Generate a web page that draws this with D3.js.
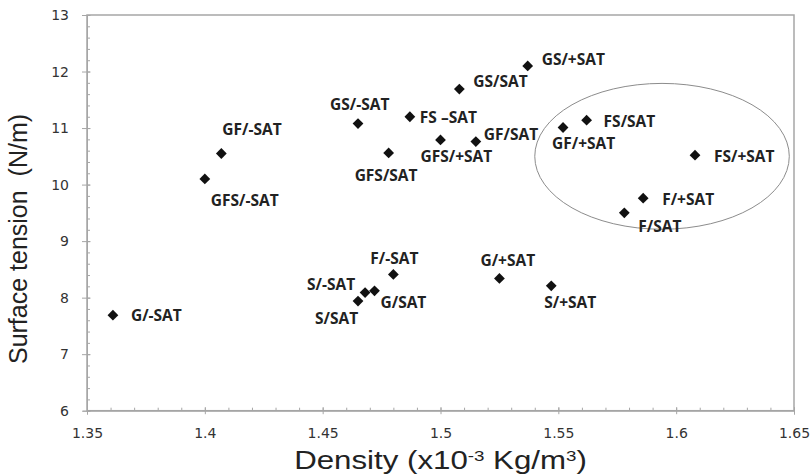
<!DOCTYPE html>
<html lang="en">
<head>
<meta charset="utf-8">
<title>Surface tension vs density</title>
<script src="https://d3js.org/d3.v7.min.js"></script>
<style>
  body { margin: 0; background: #fff; }
  .tick text { font-family: "DejaVu Sans", Verdana, sans-serif; font-size: 14px; fill: #333; }
  .lbl { font-family: "Open Sans", sans-serif; font-weight: 700; font-size: 15.5px; fill: #222; }
  .title { font-family: "Liberation Sans", Arial, sans-serif; font-size: 25px; fill: #222; }
</style>
</head>
<body>
<div id="chart"></div>
<script>
// sample names, density (x10^-3 kg/m3), surface tension (N/m)
var names   = ["G/-SAT","GFS/-SAT","GF/-SAT","GS/+SAT","GS/SAT","GS/-SAT","FS \u2013SAT","GFS/+SAT","GF/SAT","GFS/SAT",
               "GF/+SAT","FS/SAT","FS/+SAT","F/+SAT","F/SAT","F/-SAT","S/-SAT","G/SAT","S/SAT","G/+SAT","S/+SAT"];
var density = [1.361, 1.400, 1.407, 1.537, 1.508, 1.465, 1.487, 1.500, 1.515, 1.478,
               1.552, 1.562, 1.608, 1.586, 1.578, 1.480, 1.468, 1.472, 1.465, 1.525, 1.547];
var tension = [7.69, 10.10, 10.55, 12.10, 11.69, 11.08, 11.20, 10.79, 10.76, 10.56,
               11.01, 11.14, 10.52, 9.76, 9.50, 8.41, 8.09, 8.12, 7.94, 8.34, 8.21];

var xTicks = [1.35, 1.4, 1.45, 1.5, 1.55, 1.6, 1.65];
var xTickLabels = ["1.35", "1.4", "1.45", "1.5", "1.55", "1.6", "1.65"];
var yTicks = [6, 7, 8, 9, 10, 11, 12, 13];
var yTickLabels = ["6", "7", "8", "9", "10", "11", "12", "13"];

// highlighted group (ellipse), in data units: centre density, centre tension, half widths
var groupEllipse = [1.594, 10.50, 0.054, 1.29];

// label offsets in px from the marker (text start, baseline)
var labelOffset = {
  "G/-SAT": [18, 6], "GFS/-SAT": [6, 27], "GF/-SAT": [1, -18], "GS/+SAT": [14, -1],
  "GS/SAT": [14, -2], "GS/-SAT": [-28, -14], "FS \u2013SAT": [10, 6], "GFS/+SAT": [-20, 22],
  "GF/SAT": [8, -2], "GFS/SAT": [-34, 28], "GF/+SAT": [-11, 22], "FS/SAT": [17, 7],
  "FS/+SAT": [19, 7], "F/+SAT": [19, 7], "F/SAT": [14, 19], "F/-SAT": [-23, -10],
  "S/-SAT": [-58, -3], "G/SAT": [6, 17], "S/SAT": [-43, 23], "G/+SAT": [-19, -12], "S/+SAT": [-7, 22]
};

var width = 812, height = 475;
var plotL = 87, plotR = 794, plotT = 15, plotB = 410.7;
var axisColor = "#a6a6a6";

var svg = d3.select("#chart").append("svg")
    .attr("width", width)
    .attr("height", height);

var x = d3.scaleLinear().domain([1.35, 1.65]).range([plotL, plotR]);
var y = d3.scaleLinear().domain([6, 13]).range([plotB, plotT]);

// plot frame
svg.append("rect")
    .attr("x", plotL).attr("y", plotT)
    .attr("width", plotR - plotL).attr("height", plotB - plotT)
    .attr("fill", "none").attr("stroke", axisColor).attr("stroke-width", 1.5);

// minor ticks (inside)
var xMinor = d3.range(1.35, 1.6501, 0.01);
var yMinor = d3.range(6, 13.001, 0.2);
svg.append("g").attr("transform", "translate(0," + plotB + ")")
    .call(d3.axisBottom(x).tickValues(xMinor).tickSize(-3).tickFormat(""))
    .call(g => g.select(".domain").remove())
    .selectAll("line").attr("stroke", axisColor);
svg.append("g").attr("transform", "translate(" + plotL + ",0)")
    .call(d3.axisLeft(y).tickValues(yMinor).tickSize(-3).tickFormat(""))
    .call(g => g.select(".domain").remove())
    .selectAll("line").attr("stroke", axisColor);

// major axes
var xAxis = svg.append("g").attr("transform", "translate(0," + plotB + ")")
    .call(d3.axisBottom(x).tickValues(xTicks).tickSize(4).tickPadding(0)
        .tickFormat((d, i) => xTickLabels[i]));
xAxis.select(".domain").attr("stroke", axisColor);
xAxis.selectAll("line").attr("stroke", axisColor).attr("y1", -3.5).attr("y2", 3.5);
xAxis.selectAll("text").attr("y", 27).attr("dy", null);

var yAxis = svg.append("g").attr("transform", "translate(" + plotL + ",0)")
    .call(d3.axisLeft(y).tickValues(yTicks).tickSize(4)
        .tickFormat((d, i) => yTickLabels[i]));
yAxis.select(".domain").attr("stroke", axisColor);
yAxis.selectAll("line").attr("stroke", axisColor).attr("x1", -5).attr("x2", 3.5);
yAxis.selectAll("text").attr("x", -18);

// ellipse around the high density group
svg.append("ellipse")
    .attr("cx", x(groupEllipse[0]))
    .attr("cy", y(groupEllipse[1]))
    .attr("rx", x(groupEllipse[0] + groupEllipse[2]) - x(groupEllipse[0]))
    .attr("ry", y(groupEllipse[1]) - y(groupEllipse[1] + groupEllipse[3]))
    .attr("fill", "none").attr("stroke", "#8c8c8c").attr("stroke-width", 1);

var pts = names.map((n, i) => ({ name: n, d: density[i], t: tension[i] }));

svg.append("g").selectAll("path")
    .data(pts).enter().append("path")
    .attr("d", d3.symbol().type(d3.symbolSquare).size(58))
    .attr("transform", d => "translate(" + x(d.d) + "," + y(d.t) + ") rotate(45)")
    .attr("fill", "#111");

svg.append("g").selectAll("text")
    .data(pts).enter().append("text")
    .attr("class", "lbl")
    .attr("x", d => x(d.d) + labelOffset[d.name][0])
    .attr("y", d => y(d.t) + labelOffset[d.name][1])
    .text(d => d.name);

// axis titles (the x title is drawn a bit wide, like the source image)
var xt = svg.append("text").attr("class", "title")
    .attr("transform", "translate(" + (plotL + plotR) / 2 + ",469) scale(1.25,1)")
    .attr("font-size", "22px")
    .attr("text-anchor", "middle");
xt.append("tspan").text("Density (x10");
xt.append("tspan").attr("dy", -8).attr("font-size", "15px").text("-3");
xt.append("tspan").attr("dy", 8).text(" Kg/m");
xt.append("tspan").attr("dy", -8).attr("font-size", "15px").text("3");
xt.append("tspan").attr("dy", 8).text(")");

svg.append("text").attr("class", "title")
    .attr("transform", "translate(27,239) rotate(-90)")
    .attr("text-anchor", "middle")
    .attr("xml:space", "preserve")
    .text("Surface tension  (N/m)");
</script>
</body>
</html>
